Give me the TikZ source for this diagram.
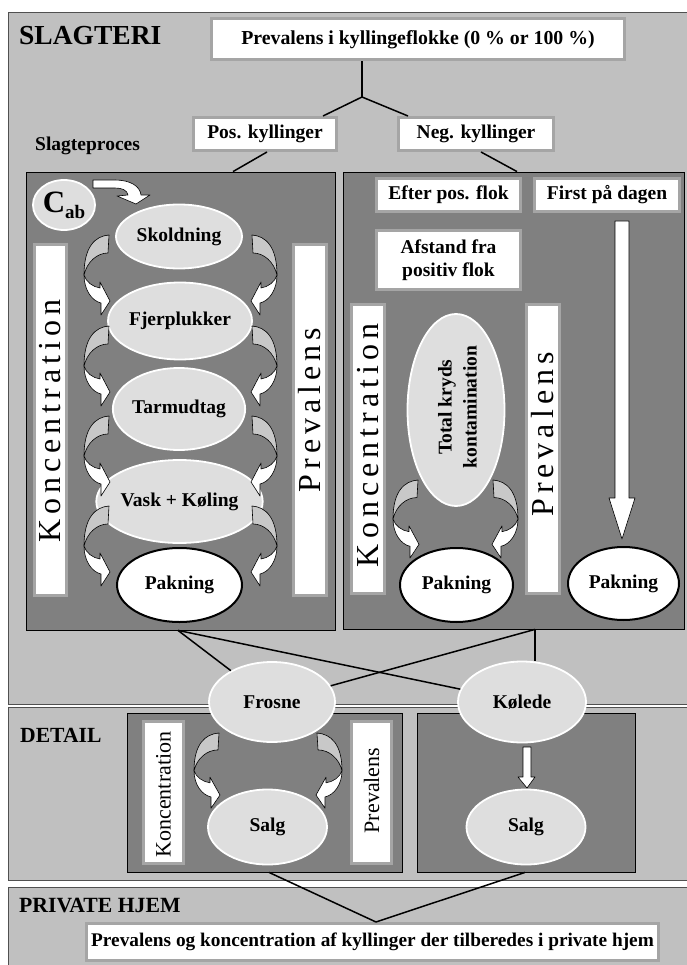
\documentclass[tikz,border=0pt]{standalone}
\usepackage{fontspec}
\setmainfont{Liberation Serif}
\usetikzlibrary{shapes.geometric,calc}
\definecolor{bglight}{RGB}{192,192,192}
\definecolor{dpanel}{RGB}{128,128,128}
\definecolor{ellfill}{RGB}{222,222,222}
\definecolor{boxline}{RGB}{165,165,165}
\definecolor{arrback}{RGB}{200,200,200}
\definecolor{frameline}{RGB}{80,80,80}
\newcommand{\bfb}{\fontsize{19.5}{22}\selectfont\bfseries}
\newcommand{\lsp}{\kern5pt}
\tikzset{
  curvarr/.pic={
    \filldraw[fill=arrback, draw=black, line width=0.6pt, line join=round]
      (0,0) .. controls (-14,1) and (-25,12) .. (-25,40)
      .. controls (-22,27) and (-12,18) .. (-1,18) -- cycle;
    \filldraw[fill=white, draw=black, line width=0.6pt, line join=round]
      (-25,40) .. controls (-25,55) and (-17,66) .. (-8,68) -- (-8,80) -- (1,66)
      -- (-9,47) -- (-9,53) .. controls (-16,52) and (-23,47) .. (-25,40) -- cycle;
  }
}
\begin{document}
\begin{tikzpicture}[x=1pt,y=-1pt,
  panel/.style={fill=bglight, draw=frameline, line width=0.9pt},
  dark/.style={rectangle, fill=dpanel, draw=black, line width=0.8pt, inner sep=0pt},
  wbox/.style={rectangle, draw=boxline, line width=3pt, fill=white, inner sep=0pt, font=\bfb, align=center},
  bar/.style={rectangle, draw=boxline, line width=3pt, fill=white, inner sep=0pt},
  ell/.style={ellipse, fill=ellfill, draw=white, line width=1.8pt, inner sep=0pt, font=\bfb},
  pak/.style={ellipse, fill=white, draw=black, line width=2pt, inner sep=0pt, font=\bfb},
  conn/.style={draw=black, line width=1.5pt},
  blockarrow/.style={fill=white, draw=black, line width=0.6pt, line join=round},
  vtext/.style={rotate=90, inner sep=0pt, font=\fontsize{32}{34}\selectfont},
  dtext/.style={rotate=90, inner sep=0pt, font=\fontsize{22}{24}\selectfont},
  lab/.style={inner sep=0pt},
]
\useasboundingbox (0,0) rectangle (686,965);
% section panels
\path[panel] (8,12) rectangle (700,704);
\path[panel] (8,707) rectangle (700,880);
\path[panel] (8,887) rectangle (700,980);

% section titles
\node[lab, anchor=base west, font=\fontsize{27.5}{30}\selectfont\bfseries] (tslag) at (19,45) {SLAGTERI};
\node[lab, anchor=base west, font=\bfb] (tproc) at (35,151) {Slagteproces};
\node[lab, anchor=base west, font=\fontsize{21.6}{24}\selectfont\bfseries] (tdet) at (20,742) {DETAIL};
\node[lab, anchor=base west, font=\fontsize{21.7}{24}\selectfont\bfseries] (thjem) at (19,912) {PRIVATE HJEM};

% dark panels
\node[dark, minimum width=309pt, minimum height=458pt] (lpanel) at (180.5,401) {};
\node[dark, minimum width=341pt, minimum height=457pt] (rpanel) at (513.5,400.5) {};
\node[dark, minimum width=275pt, minimum height=159pt] (dlpanel) at (264.5,792.5) {};
\node[dark, minimum width=218pt, minimum height=159pt] (drpanel) at (526,792.5) {};

% white boxes
\node[wbox, minimum width=413pt, minimum height=41pt, font=\fontsize{19.8}{22}\selectfont\bfseries] (top) at (418,39.5) {Prevalens i kyllingeflokke (0 \% or 100 \%)};
\node[wbox, minimum width=143pt, minimum height=33pt] (pos) at (265,134) {Pos. kyllinger};
\node[wbox, minimum width=155pt, minimum height=33pt] (neg) at (476,134) {Neg. kyllinger};
\node[wbox, minimum width=144pt, minimum height=33pt] (efter) at (448.5,195) {Efter pos. flok};
\node[wbox, minimum width=145pt, minimum height=33pt] (first) at (607,195) {First på dagen};
\node[wbox, minimum width=144pt, minimum height=59pt, font=\fontsize{19.5}{23}\selectfont\bfseries] (afst) at (448.5,260) {Afstand fra\\positiv flok};
\node[wbox, minimum width=572pt, minimum height=37pt, font=\fontsize{19.3}{22}\selectfont\bfseries] (hjem) at (372.5,942) {Prevalens og koncentration af kyllinger der tilberedes i private hjem};

% vertical bars
\node[bar, minimum width=32pt, minimum height=351pt] (lkbar) at (50.5,420) {};
\node[bar, minimum width=33pt, minimum height=351pt] (lpbar) at (310,420) {};
\node[bar, minimum width=33pt, minimum height=289pt] (rkbar) at (368,449) {};
\node[bar, minimum width=33pt, minimum height=289pt] (rpbar) at (543,449) {};
\node[bar, minimum width=40pt, minimum height=142pt] (dkbar) at (163.5,792.5) {};
\node[bar, minimum width=40pt, minimum height=142pt] (dpbar) at (371.5,792.5) {};
\node[vtext] (lkt) at (50,421) {K\lsp o\lsp n\lsp c\lsp e\lsp n\lsp t\lsp r\lsp a\lsp t\lsp i\lsp o\lsp n};
\node[vtext] (lpt) at (310,410) {P\lsp r\lsp e\lsp v\lsp a\lsp l\lsp e\lsp n\lsp s};
\node[vtext] (rkt) at (368,445.5) {K\lsp o\lsp n\lsp c\lsp e\lsp n\lsp t\lsp r\lsp a\lsp t\lsp i\lsp o\lsp n};
\node[vtext] (rpt) at (543,434.5) {P\lsp r\lsp e\lsp v\lsp a\lsp l\lsp e\lsp n\lsp s};
\node[dtext] (dkt) at (163.5,794.5) {Koncentration};
\node[dtext] (dpt) at (371.5,790.5) {Prevalens};

% ellipses, left process
\node[ell, minimum width=62pt, minimum height=50pt] (cab) at (64,205)
  {{\fontsize{31}{31}\selectfont C}\raisebox{-6pt}{\fontsize{19}{19}\selectfont ab}};
\node[ell, minimum width=126pt, minimum height=64pt] (skold) at (179,236.5) {Skoldning};
\node[ell, minimum width=122pt, minimum height=77pt] (fjer) at (180,321) {Fjerplukker};
\node[ell, minimum width=126pt, minimum height=82pt] (tarm) at (179,409) {Tarmudtag};
\node[ell, minimum width=125pt, minimum height=83pt] (vask) at (179.5,501.5) {Vask + Køling};
\node[pak, minimum width=125pt, minimum height=74pt] (pak1) at (179.5,585) {Pakning};

% right process
\node[ell, minimum width=97pt, minimum height=192pt] (kryds) at (456,410) {};
\node[lab, rotate=90, align=center, font=\fontsize{19.5}{25}\selectfont\bfseries] (krydst) at (457.5,407) {Total kryds\\kontamination};
\node[pak, minimum width=113pt, minimum height=74pt] (pak2) at (456.5,585) {Pakning};
\node[pak, minimum width=111pt, minimum height=73pt] (pak3) at (623.5,583.5) {Pakning};

% detail
\node[ell, minimum width=126pt, minimum height=80pt] (frosne) at (272,702) {Frosne};
\node[ell, minimum width=128pt, minimum height=81pt] (kolede) at (522,702) {Kølede};
\node[ell, minimum width=119pt, minimum height=75pt] (salg1) at (267.5,827) {Salg};
\node[ell, minimum width=119pt, minimum height=75pt] (salg2) at (526,827) {Salg};

% curved arrows
\foreach \yy in {235,326,416,506}{
  \path (109,\yy) pic{curvarr};
  \path (252,\yy) pic[xscale=-1]{curvarr};
}
\path (418,480) pic[yscale=0.975]{curvarr};
\path (493,480) pic[xscale=-1,yscale=0.975]{curvarr};
\path (219,733) pic[yscale=0.94]{curvarr};
\path (317,733) pic[xscale=-1,yscale=0.94]{curvarr};

% Cab arrow
\filldraw[blockarrow] (93,180) -- (115,180) .. controls (130,180) and (140,186) .. (141,195)
  -- (150,195) -- (136,204) -- (117,196) -- (128,195)
  .. controls (127,190) and (122,188) .. (115,188) -- (93,188) -- cycle;
% straight block arrows
\filldraw[blockarrow] (615,221) -- (629,221) -- (629,498) -- (635,498) -- (622,539) -- (609,498) -- (615,498) -- cycle;
\filldraw[blockarrow] (523,747) -- (531,747) -- (531,777) -- (535,777) -- (527,788) -- (518,777) -- (523,777) -- cycle;

% connectors
\coordinate (br) at (362,97);
\coordinate (lpb) at ([xshift=-2.5pt]lpanel.south);
\coordinate (rpb) at ([xshift=21.5pt]rpanel.south);
\draw[conn] (br |- top.south) -- (br);
\draw[conn] (br) -- ([xshift=58pt]pos.north);
\draw[conn] (br) -- ([xshift=-68pt]neg.north);
\draw[conn] ([xshift=2pt]pos.south) -- ([xshift=52.5pt]lpanel.north);
\draw[conn] ([xshift=5pt]neg.south) -- ([xshift=3.5pt]rpanel.north);
\draw[conn] (lpb) -- (frosne);
\draw[conn] (lpb) -- (kolede);
\draw[conn] (rpb) -- (frosne);
\draw[conn] (rpb) -- (rpb |- kolede.north);
\draw[conn] ([xshift=4.5pt]dlpanel.south) -- ([xshift=3.5pt]hjem.north);
\draw[conn] ([xshift=-1pt]drpanel.south) -- ([xshift=3.5pt]hjem.north);
\end{tikzpicture}
\end{document}
